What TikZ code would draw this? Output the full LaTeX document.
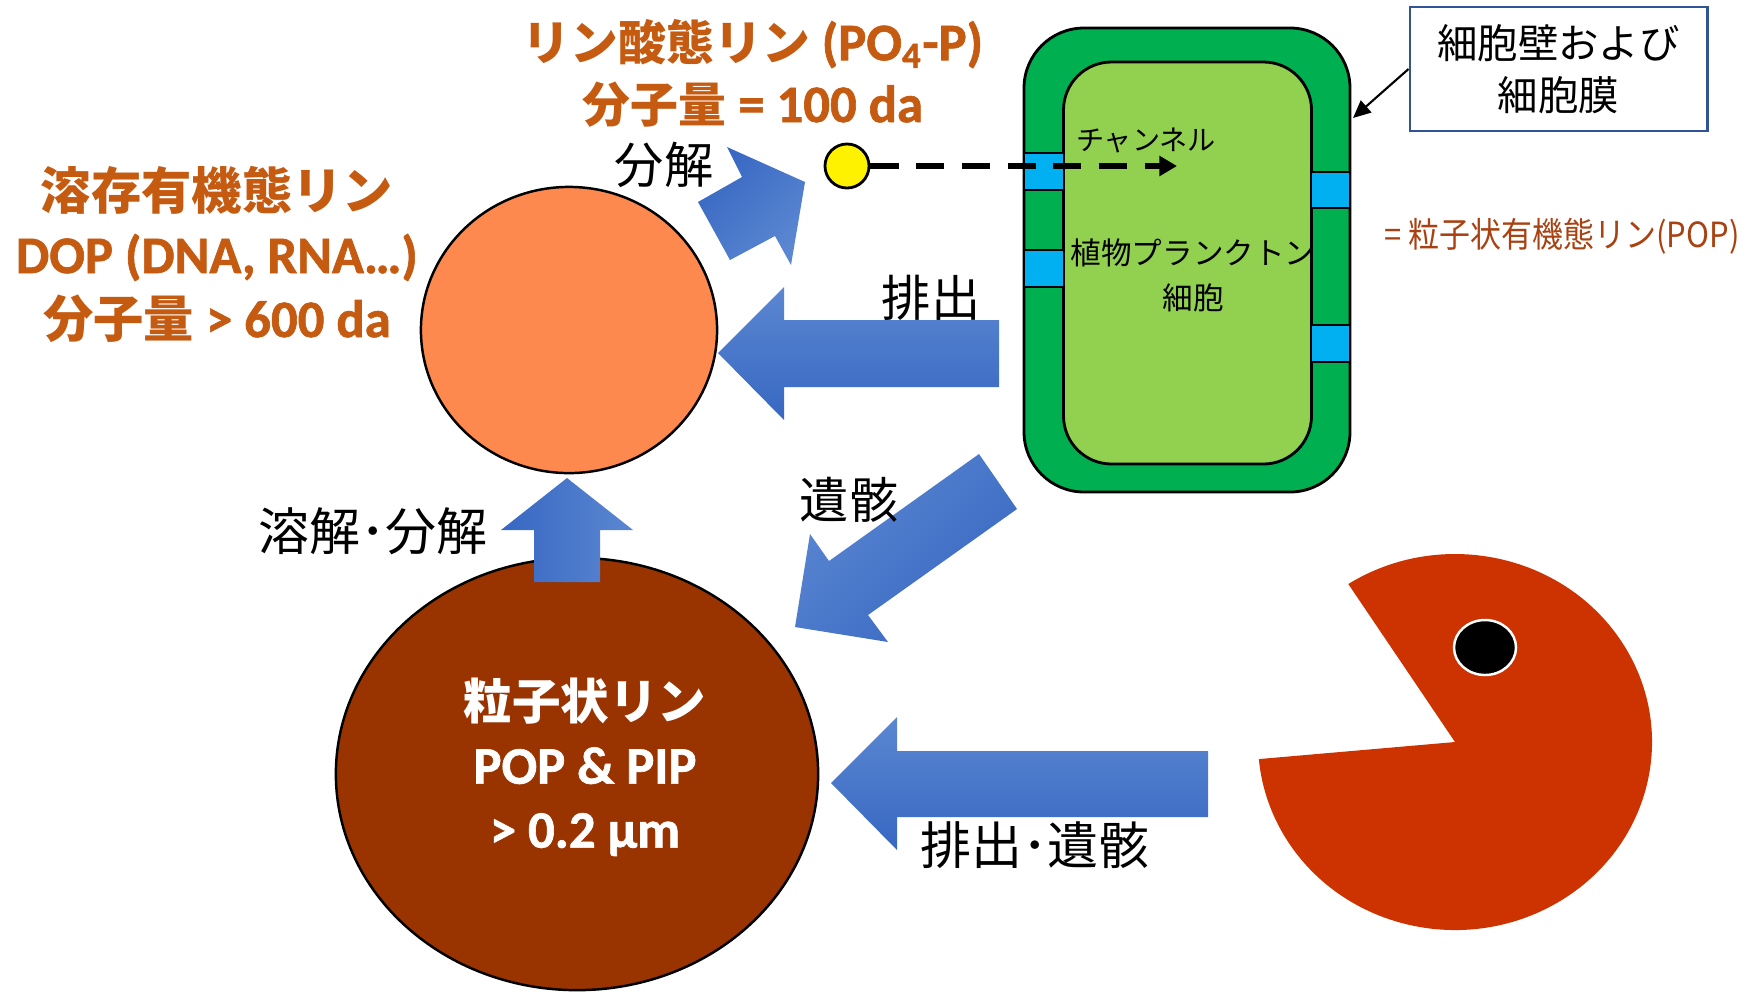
\documentclass[tikz,border=0pt]{standalone}
\usepackage{fontspec}
\usepackage{graphicx}
\setmainfont{Carlito}[BoldFeatures={FakeBold=1.2}]
\newfontfamily\jp{Noto Sans CJK JP}
\usetikzlibrary{arrows.meta,shapes.geometric}

\definecolor{titleorange}{HTML}{C55A11}
\definecolor{popbrown}{HTML}{A94212}
\definecolor{dopfill}{RGB}{253,137,78}
\definecolor{partfill}{HTML}{993300}
\definecolor{wallgreen}{HTML}{00B050}
\definecolor{cellgreen}{HTML}{92D050}
\definecolor{chancyan}{HTML}{00B0F0}
\definecolor{boxblue}{HTML}{2F5597}
\definecolor{arrowlight}{HTML}{5B87D1}
\definecolor{arrowdark}{HTML}{3767C2}
\definecolor{pacred}{HTML}{CC3300}

% bold Japanese run at a given size inside the bold captions
\newcommand{\jpbold}[2]{{\jp\bfseries\fontsize{#1}{18.2}\selectfont #2}}

\begin{document}
\begin{tikzpicture}[x=0.01cm,y=-0.01cm,
  bigtext/.style={font=\bfseries\fontsize{15}{18.2}\selectfont, align=center, inner sep=0pt},
  proclabel/.style={font=\jp\fontsize{14}{16}\selectfont, inner sep=0pt},
  blockarrow/.style={top color=arrowlight, bottom color=arrowdark, shading angle=#1},
  blockarrow/.default=0,
  channel/.style={fill=chancyan, draw=black, line width=0.5pt},
  pool/.style={ellipse, draw=black, line width=0.7pt, inner sep=0pt}
]
\useasboundingbox (0,0) rectangle (1749,993);

% dissolved and particulate pools
\node[pool, fill=dopfill, minimum width=2.96cm, minimum height=2.86cm] (dop) at (569,330) {};
\node[pool, fill=partfill, minimum width=4.82cm, minimum height=4.32cm] (pp) at (577,774) {};

% pool captions
\node[bigtext, text=titleorange, font=\bfseries\fontsize{15}{17.6}\selectfont] (po4txt) at (753,73)
  {\jpbold{13.6}{リン酸態リン} (PO\textsubscript{4}-P)\\\jpbold{13.6}{分子量} = 100 da};
\node[bigtext, text=titleorange] (doptxt) at (217,254)
  {\jpbold{14.3}{溶存有機態リン}\\DOP (DNA, RNA…)\\\jpbold{14.3}{分子量} > 600 da};
\node[bigtext, text=white] (pptxt) at (585,767)
  {\jpbold{13.8}{粒子状リン}\\POP \& PIP\\> 0.2 µm};

% phytoplankton cell: wall, cytoplasm and channels
\draw[fill=wallgreen, line width=0.8pt, rounded corners=0.6cm] (1024,28) rectangle (1350,492);
\draw[fill=cellgreen, line width=0.8pt, rounded corners=0.48cm] (1063.5,62) rectangle (1311.5,464);
\draw[channel] (1024,153) rectangle (1063.5,190);
\draw[channel] (1024,250) rectangle (1063.5,287);
\draw[channel] (1311.5,172) rectangle (1350,208);
\draw[channel] (1311.5,325) rectangle (1350,362);
\node[font=\jp\fontsize{8}{10}\selectfont, inner sep=0pt] (chantxt) at (1146,140) {チャンネル};
\node[font=\jp\fontsize{8.7}{12.8}\selectfont, align=center, inner sep=0pt] (celltxt) at (1193,275)
  {植物プランクトン\\細胞};

% phosphate molecule entering through a channel
\node[circle, fill=yellow, draw=black, line width=0.8pt, minimum size=0.44cm, inner sep=0pt] (dot) at (847,166) {};
\coordinate (chanend) at (1177,166);
\draw[line width=1.7pt, dash pattern=on 8pt off 5pt, -{Triangle[length=5pt,width=5.5pt]}] (dot) -- (chanend);

% wall label
\node[draw=boxblue, line width=0.8pt, fill=white, minimum width=2.97cm, minimum height=1.24cm,
  font=\jp\fontsize{11.5}{14.8}\selectfont, align=center] (walltxt) at (1558.5,69)
  {細胞壁および\\細胞膜};
\coordinate (wallpt) at (1353,118);
\draw[line width=0.6pt, -{Triangle[length=5pt,width=4.5pt]}] (walltxt.west) -- (wallpt);

\node[font=\jp\fontsize{8.8}{10}\selectfont, text=popbrown, anchor=west, inner sep=0pt] (poptxt) at (1384,236)
  {\scalebox{1}[1.12]{= 粒子状有機態リン(POP)}};

% grazer
\fill[pacred] (1455,742) -- (1348.3,584)
  arc[start angle=237.2, end angle=534.8, x radius=197, y radius=188] -- cycle;
\draw[fill=black, draw=white, line width=0.7pt] (1485,647.5) ellipse [x radius=31, y radius=27.5];

% flux arrows
\shade[blockarrow=225] (727,147) -- (742,177) -- (698,202) -- (730,260) -- (775,236) -- (791,265) -- (805,182) -- cycle;
\shade[blockarrow=0] (718,353) -- (784,287) -- (784,320) -- (999,320) -- (999,387) -- (784,387) -- (784,420) -- cycle;
\shade[blockarrow=45] (979,454) -- (1017,509) -- (868,615) -- (888,642) -- (795,627) -- (810,534) -- (829,561) -- cycle;
\shade[blockarrow=270] (567,478) -- (633,530) -- (600,530) -- (600,582) -- (534,582) -- (534,530) -- (501,530) -- cycle;
\shade[blockarrow=0] (831,783) -- (897,717) -- (897,751) -- (1208,751) -- (1208,817) -- (897,817) -- (897,850) -- cycle;

% process labels
\node[proclabel] (l1) at (664,165) {分解};
\node[proclabel] (l2) at (931,298) {排出};
\node[proclabel] (l3) at (849,500) {遺骸};
\node[proclabel, font=\jp\fontsize{14.5}{16}\selectfont] (l4) at (373,531) {溶解･分解};
\node[proclabel, font=\jp\fontsize{14.5}{16}\selectfont] (l5) at (1035,845) {排出･遺骸};
\end{tikzpicture}
\end{document}
